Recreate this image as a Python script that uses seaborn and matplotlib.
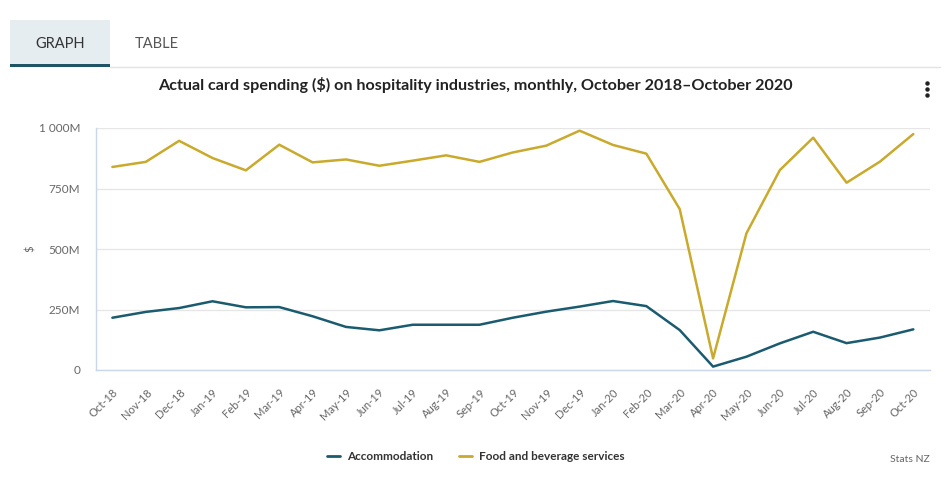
import matplotlib
matplotlib.use("Agg")
import matplotlib.pyplot as plt
from matplotlib.patches import Rectangle
from matplotlib.lines import Line2D
import seaborn as sns
import pandas as pd

months = ["Oct-18", "Nov-18", "Dec-18", "Jan-19", "Feb-19", "Mar-19", "Apr-19",
          "May-19", "Jun-19", "Jul-19", "Aug-19", "Sep-19", "Oct-19", "Nov-19",
          "Dec-19", "Jan-20", "Feb-20", "Mar-20", "Apr-20", "May-20", "Jun-20",
          "Jul-20", "Aug-20", "Sep-20", "Oct-20"]
accommodation = [216, 240, 256, 284, 259, 260, 222, 178, 164, 187, 187, 187, 216,
                 241, 262, 285, 264, 165, 14, 55, 110, 158, 111, 134, 168]
food_beverage = [839, 860, 947, 876, 825, 931, 858, 870, 844, 865, 887, 860, 899,
                 927, 989, 930, 894, 665, 48, 565, 826, 960, 774, 861, 975]
series_names = ["Accommodation", "Food and beverage services"]
ytick_values = [0, 250, 500, 750, 1000]
ytick_labels = ["0", "250M", "500M", "750M", "1 000M"]
colors = ["#1b5b6f", "#c9aa2c"]

df = pd.DataFrame({
    "idx": list(range(len(months))) * 2,
    "value": accommodation + food_beverage,
    "series": [series_names[0]] * len(months) + [series_names[1]] * len(months),
})

sns.set_theme(style="white")
plt.rcParams["font.family"] = ["Lato", "DejaVu Sans"]

W, H = 951, 483
fig = plt.figure(figsize=(W / 100, H / 100), dpi=100)
fig.patch.set_facecolor("white")

def fx(x):
    return x / W

def fy(y):
    return 1 - y / H

ax = fig.add_axes([fx(95.7), fy(370), fx(930) - fx(95.7), fy(128) - fy(370)])
sns.lineplot(data=df, x="idx", y="value", hue="series", palette=colors,
             linewidth=1.8, ax=ax, legend=False, sort=True)

ax.set_xlim(-0.5, len(months) - 0.5)
ax.set_ylim(0, 1000)
ax.set_yticks(ytick_values)
ax.set_yticklabels(ytick_labels, fontsize=8.5, color="#666666")
ax.set_xticks(range(len(months)))
ax.set_xticklabels(months, rotation=45, ha="right", rotation_mode="anchor",
                   fontsize=8, color="#666666")
ax.tick_params(axis="x", length=9, width=0.8, color="#ccd6eb", pad=3, direction="out")
ax.tick_params(axis="y", length=0, pad=11)
for t in ax.get_yticklabels():
    t.set_horizontalalignment("right")
ax.grid(axis="y", color="#e6e6e6", linewidth=1)
ax.set_axisbelow(True)
for s in ["top", "right"]:
    ax.spines[s].set_visible(False)
ax.spines["left"].set_color("#ccd6eb")
ax.spines["bottom"].set_color("#ccd6eb")
ax.spines["left"].set_linewidth(1)
ax.spines["bottom"].set_linewidth(1)
ax.set_xlabel("")
ax.set_ylabel("")
fig.text(fx(30), fy(249), "$", rotation=90, fontsize=8, color="#666666",
         ha="center", va="center")

# Tabs
fig.add_artist(Rectangle((fx(10), fy(65)), fx(110) - fx(10), fy(20) - fy(65),
                         transform=fig.transFigure, facecolor="#e5edf0", edgecolor="none"))
fig.add_artist(Rectangle((fx(10), fy(67)), fx(110) - fx(10), fy(64) - fy(67),
                         transform=fig.transFigure, facecolor="#1d5566", edgecolor="none"))
fig.add_artist(Line2D([fx(110), fx(940)], [fy(66.5), fy(66.5)], transform=fig.transFigure,
                      color="#e3e3e3", linewidth=1))
fig.text(fx(60), fy(44), "GRAPH", fontsize=10.5, color="#333333", ha="center", va="center")
fig.text(fx(157), fy(44), "TABLE", fontsize=10.5, color="#555555", ha="center", va="center")

# Title
fig.text(fx(475), fy(85), "Actual card spending ($) on hospitality industries, monthly, October 2018\u2013October 2020",
         fontsize=11.6, fontweight="bold", color="#222222", ha="center", va="center")

# menu dots
for yy in [83, 89, 95]:
    fig.add_artist(Line2D([fx(927)], [fy(yy)], marker="o", markersize=2.2, color="#222222",
                          transform=fig.transFigure))

# Legend
handles = [Line2D([0], [0], color=c, linewidth=2) for c in colors]
fig.legend(handles, series_names, loc="center", bbox_to_anchor=(fx(476), fy(457)),
           ncol=2, frameon=False, handlelength=1.1, handletextpad=0.6, columnspacing=2.2,
           prop={"family": ["Lato", "DejaVu Sans"], "weight": "bold", "size": 8.5},
           labelcolor="#333333")

fig.text(fx(930), fy(460), "Stats NZ", fontsize=7.5, color="#666666", ha="right", va="center")

fig.savefig("out.png", dpi=100, facecolor="white")
